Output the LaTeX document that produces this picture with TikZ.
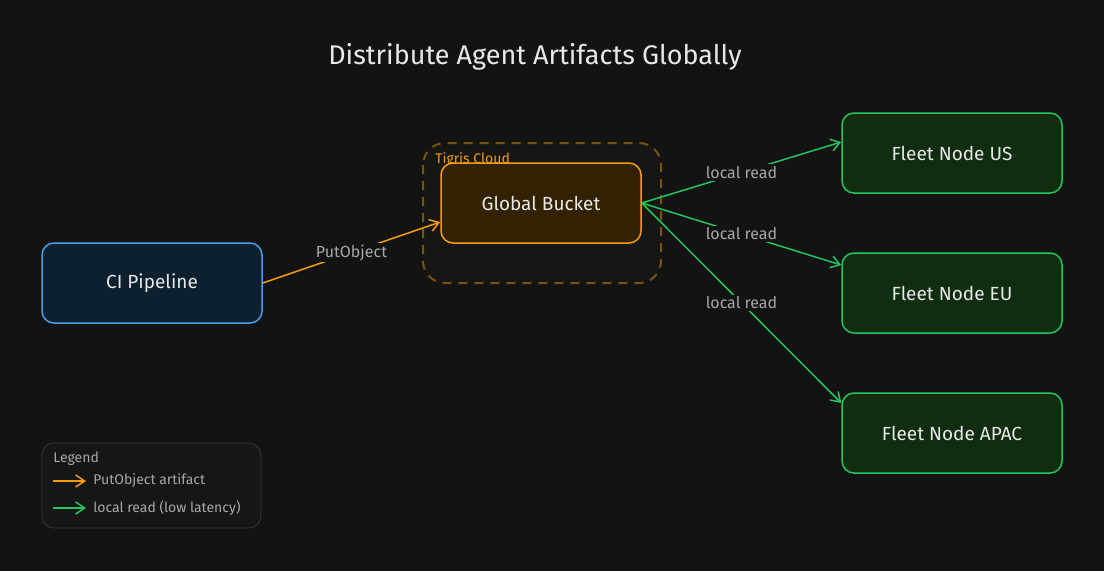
\documentclass[tikz,border=0pt]{standalone}
\usepackage{fontspec}
\setmainfont{Fira Sans}
\usetikzlibrary{arrows.meta}
\definecolor{bg}{HTML}{131313}
\definecolor{orng}{HTML}{F59E0B}
\definecolor{grn}{HTML}{22C55E}
\definecolor{blu}{HTML}{4A9FE8}
\definecolor{txt}{HTML}{E8E8E8}
\definecolor{lbl}{HTML}{A8A8A8}
\tikzset{every picture/.style={line width=0.75pt}}
\tikzset{
  box/.style={draw, rounded corners=12pt, line width=1.5pt, minimum width=220pt, minimum height=80pt, text=txt, font=\fontsize{19}{22}\selectfont},
  fleet/.style={box, draw=grn, fill={rgb,255:red,16;green,45;blue,16}},
  edgelbl/.style={fill=bg, text=lbl, inner sep=2pt, font=\fontsize{16}{18}\selectfont},
  smalltxt/.style={anchor=west, text=lbl, inner sep=0pt, font=\fontsize{14}{16}\selectfont},
  put/.style={draw=orng, line width=1.5pt, -{Straight Barb[length=9pt,width=12pt]}},
  rd/.style={draw=grn, line width=1.5pt, -{Straight Barb[length=9pt,width=12pt]}}
}
\begin{document}
\begin{tikzpicture}[x=1pt,y=1pt,yscale=-1]
% background
\fill[bg] (0,0) rectangle (1104,571);
\useasboundingbox (0,0) rectangle (1104,571);

% title
\node[text=txt, font=\fontsize{27}{30}\selectfont] (title) at (535,57) {Distribute Agent Artifacts Globally};

% cloud group
\draw[draw={rgb,255:red,120;green,84;blue,20}, line width=2pt, dash pattern=on 9pt off 7pt, fill={rgb,255:red,22;green,22;blue,20}, rounded corners=22pt] (423,143) rectangle (661,283);
\node[smalltxt, text=orng] (cloudlbl) at (435,160) {Tigris Cloud};

% nodes
\node[box, draw=blu, fill={rgb,255:red,12;green,32;blue,48}] (ci) at (152,283) {CI Pipeline};
\node[box, draw=orng, fill={rgb,255:red,50;green,34;blue,2}, minimum width=200pt] (bucket) at (541,203) {Global Bucket};
\node[fleet] (us) at (952,153) {Fleet Node US};
\node[fleet] (eu) at (952,293) {Fleet Node EU};
\node[fleet] (apac) at (952,433) {Fleet Node APAC};

% connectors
\draw[put] (ci.east) -- node[edgelbl] (putlbl) {PutObject} (bucket.west |- 0,222);
\draw[rd] (bucket.east) -- node[edgelbl, pos=0.5] (rdus) {local read} (us.west |- 0,142);
\draw[rd] (bucket.east) -- node[edgelbl, pos=0.5] (rdeu) {local read} (eu.west |- 0,265);
\draw[rd] (bucket.east) -- node[edgelbl, pos=0.5] (rdap) {local read} (apac.west |- 0,403);

% legend
\draw[draw={rgb,255:red,58;green,58;blue,58}, fill={rgb,255:red,22;green,22;blue,22}, rounded corners=12pt] (42,443) rectangle (261,528);
\node[smalltxt] (leghead) at (53,459) {Legend};
\coordinate (p1) at (53,481);
\coordinate (p2) at (86,481);
\coordinate (r1) at (53,508);
\coordinate (r2) at (86,508);
\draw[put] (p1) -- (p2);
\draw[rd] (r1) -- (r2);
\node[smalltxt] (legput) at (93,481) {PutObject artifact};
\node[smalltxt] (legrd) at (93,508) {local read (low latency)};
\end{tikzpicture}
\end{document}
